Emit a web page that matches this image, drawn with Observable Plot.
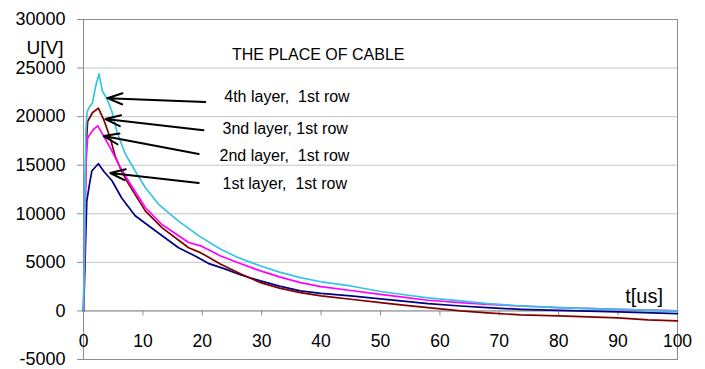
<!DOCTYPE html>
<html>
<head>
<meta charset="utf-8">
<script src="https://cdn.jsdelivr.net/npm/d3@7"></script>
<script src="https://cdn.jsdelivr.net/npm/@observablehq/plot@0.6"></script>
<style>
  html, body { margin: 0; padding: 0; background: #fff; }
  svg text { white-space: pre; }
</style>
</head>
<body>
<div id="chart"></div>
<script>
// ---- data ----
const xTicks = [0, 10, 20, 30, 40, 50, 60, 70, 80, 90, 100];
const yTicks = [-5000, 0, 5000, 10000, 15000, 20000, 25000, 30000];

const seriesNames = ["1st layer, 1st row", "3nd layer, 1st row", "2nd layer, 1st row", "4th layer, 1st row"];
const seriesColors = ["#000080", "#800000", "#ff00ff", "#35c4e4"];

const t1 = [0, 0.1, 0.3, 0.55, 1.0, 1.4, 2.5, 3.5, 4.8, 6.4, 8.7, 12.1, 16, 18.8, 21, 23.9, 26.5, 29.8, 33, 36.5, 40, 45, 50, 53.4, 58, 63.5, 68, 73.6, 80, 90, 100];
const u1 = [0, 1500, 6000, 11300, 13000, 14400, 15150, 14300, 13400, 11650, 9800, 8250, 6500, 5650, 4900, 4300, 3700, 3090, 2550, 2060, 1800, 1540, 1250, 1030, 750, 510, 330, 170, 50, -100, -280];

const t3 = [0, 0.2, 0.4, 0.7, 1.5, 2.5, 3.4, 4.5, 5.3, 6.4, 7.6, 10.4, 13.2, 17.7, 19.7, 23.1, 26.5, 29.8, 33, 36.5, 40, 45, 50, 53.4, 58, 63.5, 68, 73.6, 80, 85, 90, 95, 100];
const u3 = [0, 7000, 16500, 19500, 20400, 20870, 19700, 17800, 16000, 14400, 13050, 10300, 8570, 6500, 6000, 4800, 3800, 2910, 2350, 1880, 1550, 1200, 850, 620, 350, 0, -200, -410, -510, -620, -720, -930, -1030];

const t2 = [0, 0.2, 0.4, 0.7, 1.2, 1.7, 2.4, 3.4, 4.8, 5.9, 7.6, 10.4, 13.2, 17.7, 19.7, 23.1, 26.5, 29.8, 33, 36.5, 40, 45, 50, 53.4, 58, 63.5, 68, 73.6, 80, 90, 100];
const u2 = [0, 6000, 15000, 17800, 18300, 18700, 19050, 18000, 16450, 15100, 13350, 10650, 8900, 7050, 6700, 5660, 4850, 4120, 3500, 2910, 2500, 2100, 1700, 1440, 1100, 850, 680, 510, 350, 150, 0];

const t4 = [0, 0.2, 0.4, 0.6, 1.0, 1.5, 2.0, 2.6, 3.2, 3.9, 4.8, 5.6, 7.0, 8.7, 10.4, 12.6, 16, 19.5, 23.1, 26, 29.8, 33, 36.5, 40, 45, 50, 53.4, 58, 63.5, 68, 73.6, 80, 90, 100];
const u4 = [0, 9000, 18500, 20500, 21000, 21400, 23000, 24400, 22600, 21900, 20500, 18500, 16200, 14400, 12700, 11000, 9250, 7700, 6350, 5500, 4630, 4000, 3430, 3000, 2570, 2000, 1720, 1350, 1030, 750, 510, 350, 150, 0];

const titleText = ["THE PLACE OF CABLE"];
const titleX = [25.0];
const titleY = [26400];

const noteLabels = ["4th layer,  1st row", "3nd layer, 1st row", "2nd layer,  1st row", "1st layer,  1st row"];
const noteX = [23.7, 23.4, 22.9, 23.4];
const noteY = [22000, 18700, 15950, 13050];
const arrowTailX = [20.5, 20.2, 19.4, 19.4];
const arrowTailY = [21500, 18600, 16150, 13170];
const arrowHeadX = [4.0, 3.7, 3.4, 4.5];
const arrowHeadY = [21900, 19750, 18000, 14200];

const yLabel = "U[V]";
const xLabel = ["t[us]"];
const xLabelX = [91.2];
const xLabelY = [1450];

// ---- build tables ----
const tList = [t1, t3, t2, t4];
const uList = [u1, u3, u2, u4];
const series = tList.map((ts, k) => ts.map((t, i) => ({t, u: uList[k][i], k})));
const notes = noteLabels.map((label, i) => ({label, x: noteX[i], y: noteY[i]}));
const arrows = arrowTailX.map((x1, i) => ({x1, y1: arrowTailY[i], x2: arrowHeadX[i], y2: arrowHeadY[i]}));

const font = "'Liberation Sans', Arial, Helvetica, sans-serif";
const axisGray = "#8c8c8c";

const chart = Plot.plot({
  width: 705,
  height: 369,
  marginLeft: 83,
  marginRight: 28,
  marginTop: 19,
  marginBottom: 10,
  style: {fontFamily: font, background: "#fff", color: "#000", overflow: "visible"},
  x: {domain: [0, 100], axis: null},
  y: {domain: [-5000, 30000]},
  marks: [
    Plot.gridY(yTicks, {stroke: "#c4c4c4", strokeOpacity: 1}),
    Plot.frame({stroke: axisGray}),
    Plot.axisY(yTicks, {tickSize: 6, tickPadding: 12, fontSize: 18, stroke: axisGray, fill: "#000", label: null, tickFormat: d => String(d)}),
    Plot.ruleY([0], {stroke: axisGray}),
    Plot.ruleX(xTicks, {x: d => d, y1: 0, y2: 0, insetBottom: -5, stroke: axisGray}),
    Plot.text(xTicks, {x: d => d, y: 0, dy: 30, fontSize: 17.5, fill: "#000"}),
    ...series.map((s, k) => Plot.line(s, {x: "t", y: "u", stroke: seriesColors[k], strokeWidth: 1.7})),
    Plot.arrow(arrows, {x1: "x1", y1: "y1", x2: "x2", y2: "y2", stroke: "#000", strokeWidth: 2, headLength: 12, headAngle: 40}),
    Plot.text(notes, {x: "x", y: "y", text: "label", textAnchor: "start", fontSize: 16, fill: "#000"}),
    Plot.text(titleText, {x: (d, i) => titleX[i], y: (d, i) => titleY[i], text: d => d, textAnchor: "start", fontSize: 16, fill: "#000"}),
    Plot.text(xLabel, {x: (d, i) => xLabelX[i], y: (d, i) => xLabelY[i], text: d => d, textAnchor: "start", fontSize: 20, fill: "#000"}),
    Plot.text([yLabel], {frameAnchor: "top-left", dx: -20, dy: 21, textAnchor: "end", text: d => d, fontSize: 19, fill: "#000"})
  ]
});
document.getElementById("chart").appendChild(chart);
</script>
</body>
</html>
